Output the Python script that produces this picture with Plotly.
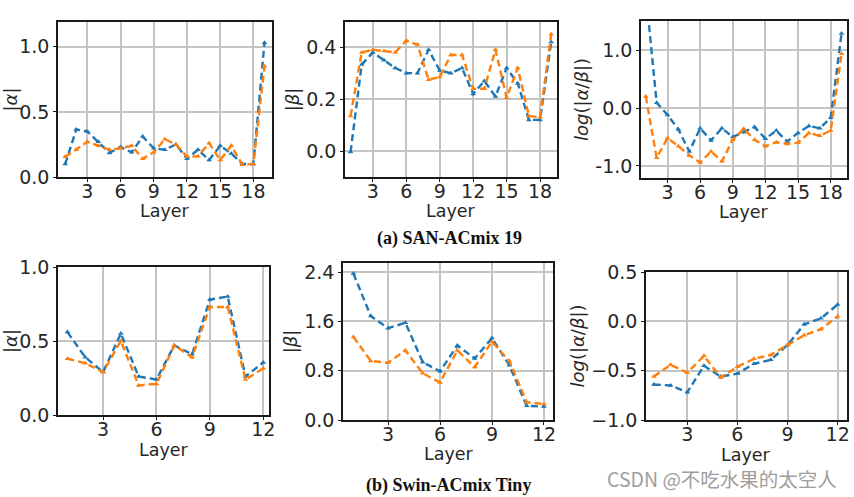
import plotly.graph_objects as go

W, H = 854, 497

layers19 = list(range(1, 20))
layers12 = list(range(1, 13))

# (a) SAN-ACmix 19
a_alpha_blue = [0.10, 0.365, 0.35, 0.27, 0.185, 0.23, 0.19, 0.31, 0.22, 0.21, 0.25, 0.14, 0.21, 0.13, 0.24, 0.18, 0.10, 0.10, 1.03]
a_alpha_orange = [0.155, 0.21, 0.27, 0.24, 0.21, 0.22, 0.24, 0.14, 0.19, 0.29, 0.25, 0.155, 0.16, 0.26, 0.13, 0.24, 0.095, 0.10, 0.85]
a_beta_blue = [-0.004, 0.333, 0.38, 0.35, 0.32, 0.30, 0.30, 0.39, 0.31, 0.30, 0.32, 0.22, 0.27, 0.21, 0.32, 0.26, 0.12, 0.12, 0.42]
a_beta_orange = [0.135, 0.38, 0.39, 0.385, 0.38, 0.425, 0.41, 0.275, 0.285, 0.37, 0.37, 0.24, 0.24, 0.39, 0.205, 0.32, 0.135, 0.13, 0.45]
a_log_blue = [2.0, 0.09, -0.12, -0.37, -0.75, -0.35, -0.56, -0.35, -0.50, -0.42, -0.33, -0.53, -0.39, -0.58, -0.43, -0.31, -0.35, -0.17, 1.29]
a_log_orange = [0.20, -0.86, -0.52, -0.66, -0.82, -0.94, -0.75, -0.92, -0.55, -0.36, -0.55, -0.66, -0.59, -0.62, -0.60, -0.43, -0.48, -0.39, 0.94]

# (b) Swin-ACmix Tiny
b_alpha_blue = [0.56, 0.39, 0.29, 0.55, 0.26, 0.24, 0.47, 0.41, 0.78, 0.80, 0.26, 0.355]
b_alpha_orange = [0.38, 0.35, 0.29, 0.50, 0.20, 0.21, 0.47, 0.39, 0.73, 0.73, 0.24, 0.315]
b_beta_blue = [2.38, 1.69, 1.49, 1.58, 0.94, 0.79, 1.21, 1.00, 1.33, 0.89, 0.23, 0.22]
b_beta_orange = [1.35, 0.96, 0.93, 1.13, 0.76, 0.61, 1.13, 0.86, 1.27, 0.96, 0.29, 0.26]
b_log_blue = [-0.64, -0.65, -0.72, -0.45, -0.56, -0.53, -0.43, -0.39, -0.24, -0.03, 0.03, 0.17]
b_log_orange = [-0.56, -0.44, -0.52, -0.35, -0.57, -0.46, -0.38, -0.34, -0.24, -0.14, -0.08, 0.05]

xticks19 = [3, 6, 9, 12, 15, 18]
xticks12 = [3, 6, 9, 12]
x_title = "Layer"

BLUE = "#1f77b4"
ORANGE = "#ff7f0e"
FONT = "DejaVu Sans"
TXT = "#262626"

panels = [
    dict(box=(58, 22, 272, 177), xr=[0.35, 19.68], yr=[0, 1.19], xt=xticks19,
         yt=[0.0, 0.5, 1.0], ytt=["0.0", "0.5", "1.0"], title="|<i>α</i>|",
         xtpos=(165, 211), x=layers19, b=a_alpha_blue, o=a_alpha_orange),
    dict(box=(345, 22, 557, 177), xr=[0.5, 19.52], yr=[-0.1, 0.497], xt=xticks19,
         yt=[0.0, 0.2, 0.4], ytt=["0.0", "0.2", "0.4"], title="|<i>β</i>|",
         xtpos=(451, 211), x=layers19, b=a_beta_blue, o=a_beta_orange),
    dict(box=(641, 21, 847, 178), xr=[0.56, 19.5], yr=[-1.21, 1.505], xt=xticks19,
         yt=[-1.0, 0.0, 1.0], ytt=["-1.0", "0.0", "1.0"], title="<i>log</i>(|<i>α</i>/<i>β</i>|)",
         xtpos=(744, 212), x=layers19, b=a_log_blue, o=a_log_orange),
    dict(box=(58, 267, 269, 415), xr=[0.47, 12.32], yr=[0, 1.0], xt=xticks12,
         yt=[0.0, 0.5, 1.0], ytt=["0.0", "0.5", "1.0"], title="|<i>α</i>|",
         xtpos=(164, 450), x=layers12, b=b_alpha_blue, o=b_alpha_orange),
    dict(box=(343, 263, 553, 420), xr=[0.4, 12.52], yr=[0, 2.55], xt=xticks12,
         yt=[0.0, 0.8, 1.6, 2.4], ytt=["0.0", "0.8", "1.6", "2.4"], title="|<i>β</i>|",
         xtpos=(449, 454), x=layers12, b=b_beta_blue, o=b_beta_orange),
    dict(box=(646, 272, 847, 420), xr=[0.53, 12.56], yr=[-1.0, 0.5], xt=xticks12,
         yt=[-1.0, -0.5, 0.0, 0.5], ytt=["\u22121.0", "\u22120.5", "0.0", "0.5"],
         title="<i>log</i>(|<i>α</i>/<i>β</i>|)",
         xtpos=(746, 455), x=layers12, b=b_log_blue, o=b_log_orange),
]

fig = go.Figure()
layout = {}
annotations = []
for i, p in enumerate(panels, start=1):
    sfx = "" if i == 1 else str(i)
    x0, y0, x1, y1 = p["box"]
    for ys, col in ((p["b"], BLUE), (p["o"], ORANGE)):
        fig.add_trace(go.Scatter(
            x=p["x"], y=ys, mode="lines+markers",
            line=dict(color=col, width=2.4, dash="7px,4px"),
            marker=dict(symbol="triangle-up", size=5, color=col),
            xaxis="x" + sfx, yaxis="y" + sfx, showlegend=False,
            cliponaxis=True,
        ))
    common = dict(showline=True, linecolor="#1a1a1a", linewidth=1.6, mirror=True,
                  showgrid=True, gridcolor="#c4c4c4", gridwidth=1.6, zeroline=False,
                  ticks="outside", ticklen=3, tickwidth=1.2, tickcolor="#1a1a1a",
                  automargin=False,
                  tickfont=dict(family=FONT, size=19, color=TXT))
    layout["xaxis" + sfx] = dict(
        domain=[x0 / W, x1 / W], anchor="y" + sfx, range=p["xr"],
        tickmode="array", tickvals=p["xt"], ticktext=[str(v) for v in p["xt"]],
        ticklabelstandoff=-7,
        **common)
    layout["yaxis" + sfx] = dict(
        domain=[1 - y1 / H, 1 - y0 / H], anchor="x" + sfx, range=p["yr"],
        tickmode="array", tickvals=p["yt"], ticktext=p["ytt"],
        title=dict(text=p["title"], font=dict(family=FONT, size=18, color=TXT), standoff=2),
        **common)
    tx, ty = p["xtpos"]
    annotations.append(dict(text=x_title, x=tx / W, y=1 - ty / H, xref="paper", yref="paper",
                            xanchor="center", yanchor="middle", showarrow=False,
                            font=dict(family=FONT, size=17.5, color=TXT)))

annotations += [
    dict(text="<b>(a) SAN-ACmix 19</b>", x=449 / W, y=1 - 238 / H, xref="paper", yref="paper",
         xanchor="center", yanchor="middle",
         showarrow=False, font=dict(family="Liberation Serif", size=18, color="#111")),
    dict(text="<b>(b) Swin-ACmix Tiny</b>", x=448 / W, y=1 - 485 / H, xref="paper", yref="paper",
         xanchor="center", yanchor="middle",
         showarrow=False, font=dict(family="Liberation Serif", size=18, color="#111")),
    dict(text="CSDN @不吃水果的太空人", x=722 / W, y=1 - 478 / H, xref="paper", yref="paper",
         xanchor="center", yanchor="middle",
         showarrow=False, font=dict(family="Noto Sans CJK SC", size=19.5, color="#9e9e9e")),
]

fig.update_layout(**layout)
fig.update_layout(
    width=W, height=H, margin=dict(l=0, r=0, t=0, b=0, autoexpand=False),
    paper_bgcolor="white", plot_bgcolor="white",
    annotations=annotations,
)

fig.write_html("out.html")
